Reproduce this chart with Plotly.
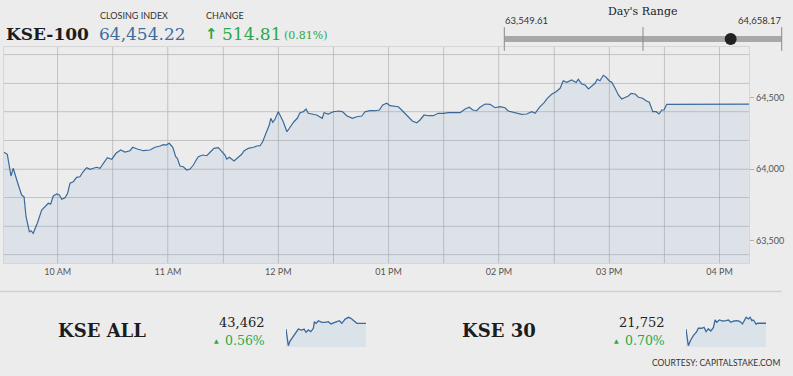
import plotly.graph_objects as go

# ---------------- data ----------------
DATE = "2023-12-01"
SESSION_START = "09:30:48"
SESSION_END = "16:16:12"

kse100_times = [
    "09:30:48", "09:32:36", "09:34:36", "09:35:48", "09:38:36", "09:40:24", "09:41:42", "09:42:48",
    "09:44:36", "09:45:30", "09:46:42", "09:48:54", "09:51:18", "09:53:06", "09:54:54", "09:56:12",
    "09:57:36", "09:59:30", "10:00:54", "10:02:12", "10:04:00", "10:05:24", "10:06:42", "10:08:30",
    "10:10:18", "10:12:06", "10:13:36", "10:15:48", "10:17:36", "10:19:24", "10:21:12", "10:23:00",
    "10:24:48", "10:27:00", "10:29:24", "10:31:42", "10:34:18", "10:36:36", "10:39:18", "10:40:48",
    "10:43:18", "10:46:36", "10:50:12", "10:52:54", "10:55:42", "10:57:24", "10:58:54", "11:00:42",
    "11:02:36", "11:04:12", "11:05:06", "11:06:30", "11:08:18", "11:10:12", "11:12:00", "11:13:48",
    "11:15:36", "11:16:30", "11:18:54", "11:21:06", "11:22:54", "11:25:00", "11:27:24", "11:29:12",
    "11:31:00", "11:31:54", "11:33:24", "11:35:54", "11:38:12", "11:40:06", "11:41:18", "11:43:42",
    "11:46:24", "11:48:18", "11:50:06", "11:51:30", "11:53:18", "11:55:06", "11:55:54", "11:57:00",
    "11:58:12", "12:00:00", "12:00:54", "12:02:42", "12:04:42", "12:06:24", "12:08:30", "12:10:18",
    "12:11:48", "12:13:36", "12:15:06", "12:16:18", "12:18:42", "12:20:54", "12:23:54", "12:24:54",
    "12:27:12", "12:29:54", "12:33:12", "12:35:00", "12:37:12", "12:40:18", "12:42:42", "12:45:24",
    "12:47:12", "12:49:54", "12:52:36", "12:55:00", "12:56:48", "12:59:00", "13:00:48", "13:02:36",
    "13:04:00", "13:05:18", "13:07:06", "13:08:54", "13:10:42", "13:12:54", "13:15:18", "13:17:06",
    "13:19:18", "13:21:36", "13:24:18", "13:27:00", "13:29:48", "13:32:30", "13:36:06", "13:38:54",
    "13:41:36", "13:43:54", "13:45:48", "13:47:54", "13:49:42", "13:52:30", "13:55:12", "13:57:54",
    "14:00:36", "14:03:18", "14:05:06", "14:07:30", "14:10:00", "14:12:24", "14:15:06", "14:17:54",
    "14:19:42", "14:22:00", "14:24:36", "14:26:18", "14:28:42", "14:31:06", "14:33:18", "14:35:00",
    "14:36:54", "14:39:36", "14:42:00", "14:43:12", "14:45:06", "14:46:54", "14:48:42", "14:50:30",
    "14:52:18", "14:53:30", "14:55:00", "14:56:48", "14:58:18", "15:00:06", "15:01:24", "15:03:12",
    "15:05:00", "15:06:48", "15:08:36", "15:10:24", "15:11:54", "15:14:06", "15:15:54", "15:18:12",
    "15:20:00", "15:21:48", "15:23:42", "15:25:30", "15:27:06", "15:28:36", "15:29:48", "15:31:18",
    "16:16:12",
]
kse100_values = [
    64117, 64103, 63951, 64005, 63888, 63818, 63806, 63666,
    63561, 63568, 63550, 63620, 63713, 63736, 63760, 63755,
    63811, 63825, 63818, 63788, 63799, 63830, 63900, 63911,
    63942, 63946, 63977, 64009, 63998, 64005, 64012, 64005,
    64040, 64079, 64068, 64110, 64133, 64119, 64128, 64152,
    64140, 64128, 64133, 64152, 64161, 64170, 64168, 64180,
    64152, 64086, 64075, 64021, 64016, 63993, 64000, 64028,
    64068, 64086, 64098, 64093, 64117, 64145, 64149, 64121,
    64098, 64070, 64082, 64056, 64082, 64103, 64126, 64145,
    64152, 64161, 64163, 64191, 64250, 64308, 64355, 64327,
    64348, 64401, 64378, 64331, 64261, 64296, 64331, 64355,
    64394, 64401, 64420, 64390, 64385, 64378, 64355, 64394,
    64385, 64401, 64406, 64401, 64373, 64355, 64366, 64371,
    64401, 64408, 64408, 64413, 64448, 64460, 64443, 64441,
    64436, 64436, 64413, 64390, 64362, 64336, 64324, 64343,
    64378, 64373, 64373, 64390, 64390, 64394, 64394, 64394,
    64420, 64432, 64413, 64408, 64432, 64455, 64453, 64429,
    64436, 64429, 64406, 64397, 64390, 64383, 64385, 64401,
    64390, 64432, 64464, 64495, 64523, 64541, 64565, 64618,
    64607, 64623, 64606, 64628, 64595, 64588, 64560, 64581,
    64600, 64628, 64618, 64656, 64642, 64616, 64607, 64565,
    64518, 64490, 64502, 64511, 64530, 64525, 64502, 64495,
    64478, 64467, 64401, 64401, 64385, 64413, 64413, 64453,
    64454,
]

kse_all_times = [
    "09:30:48", "09:42:30", "09:51:06", "10:07:54", "10:25:12", "10:33:18", "10:50:36", "11:02:12",
    "11:12:24", "11:24:06", "11:36:18", "11:49:30", "11:54:36", "12:03:12", "12:14:54", "12:32:12",
    "12:48:54", "13:05:42", "13:17:54", "13:34:36", "13:48:24", "14:01:36", "14:13:48", "14:30:30",
    "14:47:18", "14:59:30", "15:09:36", "15:21:18", "15:30:00", "16:16:12",
]
kse_all_values = [
    43376, 43126, 43196, 43261, 43336, 43376, 43361, 43376,
    43327, 43362, 43336, 43387, 43486, 43462, 43501, 43477,
    43477, 43486, 43452, 43477, 43486, 43501, 43462, 43526,
    43552, 43537, 43512, 43477, 43462, 43462,
]

kse30_times = [
    "09:30:48", "09:42:30", "09:54:42", "10:07:54", "10:25:12", "10:33:18", "10:50:36", "11:02:12",
    "11:12:24", "11:24:06", "11:36:18", "11:49:30", "11:58:06", "12:06:42", "12:20:00", "12:37:12",
    "12:54:00", "13:05:42", "13:17:54", "13:34:36", "13:51:24", "14:05:06", "14:16:48", "14:35:36",
    "14:47:18", "14:55:54", "15:04:36", "15:12:42", "15:26:24", "15:33:00", "16:16:12",
]
kse30_values = [
    21706, 21573, 21618, 21653, 21685, 21712, 21712, 21720,
    21685, 21708, 21690, 21717, 21778, 21760, 21778, 21770,
    21773, 21778, 21760, 21770, 21773, 21765, 21746, 21800,
    21786, 21800, 21773, 21778, 21744, 21752, 21752,
]

closing_index = 64454.22
change_points = 514.81
change_pct = 0.81
day_low = 63549.61
day_high = 64658.17

kse_all_last = 43462
kse_all_pct = 0.56
kse30_last = 21752
kse30_pct = 0.70

y_ticks = [63500, 64000, 64500]
grid_times = ["10:00", "10:30", "11:00", "11:30", "12:00", "12:30", "13:00",
              "13:30", "14:00", "14:30", "15:00", "15:30", "16:00"]
grid_levels = [63400, 63600, 63800, 64000, 64200, 64400, 64600, 64800]

# ---------------- styling ----------------
W, H = 793, 376
BG = "#ececec"
GRID = "#d6d6d6"
GRID_LINE = "rgba(0,0,0,0.09)"
LINE = "#3a6b9c"
GREEN = "#2aa84a"
BLUE_TXT = "#3f6c9f"
DARK = "#1c1c1c"
SERIF = "DejaVu Serif"
SANS = "Lato"


def px(x):
    return x / W


def py(y):
    return 1 - y / H


def ts(times):
    return [f"{DATE} {t}" for t in times]


x_start = f"{DATE} {SESSION_START}"
x_end = f"{DATE} {SESSION_END}"

fig = go.Figure()

# main area chart (translucent fill so the grid shows through)
fig.add_trace(go.Scatter(
    x=ts(kse100_times), y=kse100_values, mode="lines",
    line=dict(color=LINE, width=1.2),
    fill="tozeroy", fillcolor="rgba(140,175,220,0.15)",
    xaxis="x", yaxis="y", hoverinfo="skip", showlegend=False,
))

# day's range bar
fig.add_trace(go.Scatter(
    x=[day_low, day_high], y=[0, 0], mode="lines",
    line=dict(color="#a8a8a8", width=6),
    xaxis="x2", yaxis="y2", hoverinfo="skip", showlegend=False, cliponaxis=False,
))
fig.add_trace(go.Scatter(
    x=[day_low, (day_low + day_high) / 2, day_high], y=[0, 0, 0], mode="markers",
    marker=dict(symbol="line-ns", size=17, line=dict(width=1, color="#8a8a8a")),
    xaxis="x2", yaxis="y2", hoverinfo="skip", showlegend=False, cliponaxis=False,
))
fig.add_trace(go.Scatter(
    x=[closing_index], y=[0], mode="markers",
    marker=dict(size=12, color="#222222"),
    xaxis="x2", yaxis="y2", hoverinfo="skip", showlegend=False, cliponaxis=False,
))

# sparklines
for times, vals, xa, ya in [
    (kse_all_times, kse_all_values, "x3", "y3"),
    (kse30_times, kse30_values, "x4", "y4"),
]:
    fig.add_trace(go.Scatter(
        x=ts(times), y=vals, mode="lines",
        line=dict(color=LINE, width=1.3),
        fill="tozeroy", fillcolor="#dae2ea",
        xaxis=xa, yaxis=ya, hoverinfo="skip", showlegend=False,
    ))

hidden = dict(visible=False, showgrid=False, zeroline=False, fixedrange=True)

fig.update_layout(
    width=W, height=H,
    margin=dict(l=0, r=0, t=0, b=0),
    paper_bgcolor=BG, plot_bgcolor=BG,
    showlegend=False,
    xaxis=dict(
        domain=[px(4), px(749.3)], range=[x_start, x_end], type="date",
        anchor="y",
        tick0=f"{DATE} 10:00", dtick=3600000, tickformat="%I %p",
        showgrid=True, gridcolor=GRID,
        minor=dict(tick0=f"{DATE} 10:00", dtick=1800000, showgrid=True, gridcolor=GRID),
        showline=True, mirror=True, linecolor=GRID, linewidth=1,
        ticks="", zeroline=False,
        tickfont=dict(family=SANS, size=9, color="#555555"),
    ),
    yaxis=dict(
        domain=[py(263.3), py(47)], range=[63340, 64854], anchor="x",
        side="right",
        tickmode="array", tickvals=y_ticks, ticktext=[f"{v:,}" for v in y_ticks],
        ticks="outside", ticklen=4, tickcolor="#b0b0b0",
        tickfont=dict(family=SANS, size=9, color="#555555"),
        showgrid=False,
        minor=dict(tick0=63400, dtick=200, showgrid=True, gridcolor=GRID,
                   ticks="inside", ticklen=1, tickcolor=GRID),
        showline=True, mirror=True, linecolor=GRID, linewidth=1,
        zeroline=False,
    ),
    xaxis2=dict(domain=[px(504.3), px(781.7)], range=[day_low, day_high], anchor="y2", **hidden),
    yaxis2=dict(domain=[py(45), py(27)], range=[-0.5, 1.0], anchor="x2", **hidden),
    xaxis3=dict(domain=[px(286), px(366)], range=[x_start, x_end], type="date", anchor="y3", **hidden),
    yaxis3=dict(domain=[py(347), py(313)], range=[43106, 43617], anchor="x3", **hidden),
    xaxis4=dict(domain=[px(686), px(766)], range=[x_start, x_end], type="date", anchor="y4", **hidden),
    yaxis4=dict(domain=[py(347), py(313)], range=[21562, 21834], anchor="x4", **hidden),
)

# grid lines on the main chart, placed on the axis' own time / value steps
for t in grid_times:
    fig.add_shape(type="line", xref="x", yref="y domain",
                  x0=f"{DATE} {t}", x1=f"{DATE} {t}", y0=0, y1=1,
                  line=dict(color=GRID_LINE, width=1), layer="above")
for v in grid_levels:
    fig.add_shape(type="line", xref="x domain", yref="y",
                  x0=0, x1=1, y0=v, y1=v,
                  line=dict(color=GRID_LINE, width=1), layer="above")

ann = []


def text(t, x, y, size, color, family, anchor="left"):
    ann.append(dict(text=t, x=px(x), y=py(y), xref="paper", yref="paper",
                    xanchor=anchor, yanchor="middle", showarrow=False,
                    font=dict(family=family, size=size, color=color)))


# header
text("<b>KSE-100</b>", 4, 34, 17, DARK, SERIF)
text("CLOSING INDEX", 98, 16, 9, "#333333", SANS)
text(f"{closing_index:,.2f}", 97, 34, 17, BLUE_TXT, SERIF)
text("CHANGE", 204, 16, 9, "#333333", SANS)
text("<b>↑</b>", 203, 34, 15, GREEN, "DejaVu Sans")
text(f"{change_points:,.2f}", 220, 34, 17, GREEN, SERIF)
text(f"({change_pct:.2f}%)", 282, 35, 11, GREEN, SERIF)

text("Day's Range", 643, 12, 11, "#222222", SERIF, "center")
text(f"{day_low:,.2f}", 503, 20, 9.5, "#333333", SANS)
text(f"{day_high:,.2f}", 783, 20, 9.5, "#333333", SANS, "right")

# bottom panels
text("<b>KSE ALL</b>", 101.5, 330.5, 18, DARK, SERIF, "center")
text(f"{kse_all_last:,}", 267, 322, 13, "#222222", SERIF, "right")
text("▲", 216, 340, 6, GREEN, "DejaVu Sans", "center")
text(f"{kse_all_pct:.2f}%", 267, 340, 12.5, GREEN, SERIF, "right")

text("<b>KSE 30</b>", 499, 330.5, 18, DARK, SERIF, "center")
text(f"{kse30_last:,}", 667, 322, 13, "#222222", SERIF, "right")
text("▲", 616, 340, 6, GREEN, "DejaVu Sans", "center")
text(f"{kse30_pct:.2f}%", 667, 340, 12.5, GREEN, SERIF, "right")

text("COURTESY: CAPITALSTAKE.COM", 782, 363, 8.5, "#333333", SANS, "right")

fig.update_layout(annotations=ann)

fig.add_shape(type="line", xref="paper", yref="paper",
              x0=0, x1=px(781.7), y0=py(291.5), y1=py(291.5),
              line=dict(color="#cfcfcf", width=1.5))

fig.write_html(
    "out.html",
    config={"displayModeBar": False},
    post_script="document.body.style.margin='0';document.body.style.background='#ececec';",
)
